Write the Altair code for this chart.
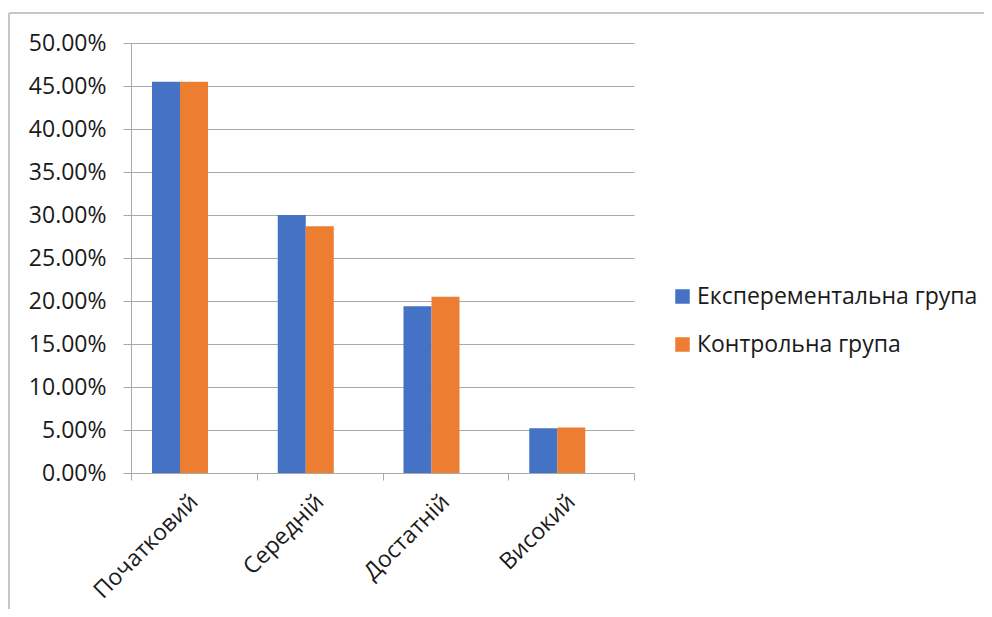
import altair as alt
import pandas as pd

categories = ["Початковий", "Середній", "Достатній", "Високий"]
series_names = ["Експерементальна група", "Контрольна група"]
exp_values = [0.455, 0.300, 0.194, 0.052]
ctrl_values = [0.455, 0.287, 0.205, 0.053]
y_ticks = [0.0, 0.05, 0.10, 0.15, 0.20, 0.25, 0.30, 0.35, 0.40, 0.45, 0.50]

rows = []
for c, e, k in zip(categories, exp_values, ctrl_values):
    rows.append({"level": c, "group": series_names[0], "value": e})
    rows.append({"level": c, "group": series_names[1], "value": k})
df = pd.DataFrame(rows)

FONT = "Open Sans"
GRID = "#a9a9a9"
TEXT = "#1a1a1a"
BLUE = "#4472C4"
ORANGE = "#ED7D31"
BORDER = "#c6c6c6"

bars = alt.Chart(df).mark_bar().encode(
    x=alt.X(
        "level:N", sort=categories,
        scale=alt.Scale(paddingInner=0, paddingOuter=0),
        axis=alt.Axis(title=None, labelAngle=-45, labelAlign="right", labelBaseline="middle",
                      tickBand="extent", labelPadding=18, tickSize=7,
                      domainColor=GRID, tickColor=GRID, labelFontSize=23,
                      labelFont=FONT, labelColor=TEXT, grid=False),
    ),
    xOffset=alt.XOffset("group:N", sort=series_names,
                        scale=alt.Scale(paddingInner=0, paddingOuter=0, range=[21, 77])),
    y=alt.Y(
        "value:Q", scale=alt.Scale(domain=[0, 0.5]),
        axis=alt.Axis(title=None, format=".2%", values=y_ticks, grid=True, gridColor=GRID,
                      tickSize=8, tickColor=GRID, domainColor=GRID, labelPadding=17,
                      labelFontSize=23, labelFont=FONT, labelColor=TEXT),
    ),
    color=alt.Color(
        "group:N", sort=series_names,
        scale=alt.Scale(domain=series_names, range=[BLUE, ORANGE]),
        legend=alt.Legend(title=None, orient="none", legendX=540, legendY=242,
                          symbolType="square", symbolSize=210, symbolStrokeWidth=0,
                          labelFontSize=23, labelFont=FONT, labelColor=TEXT,
                          labelLimit=0, rowPadding=24, labelOffset=3),
    ),
)

border_left = alt.Chart(df).mark_rule(color=BORDER, strokeWidth=1).encode(
    x=alt.value(-122), y=alt.value(-30), y2=alt.value(570)
)
border_top = alt.Chart(df).mark_rule(color=BORDER, strokeWidth=1).encode(
    x=alt.value(-122), x2=alt.value(860), y=alt.value(-30)
)

chart = alt.layer(bars, border_left, border_top).properties(
    width=503, height=430,
    autosize=alt.AutoSizeParams(type="none"),
    padding={"left": 123, "top": 35, "right": 350, "bottom": 136},
).configure_view(stroke=None)

chart.save("out.html", embed_options={"renderer": "svg", "actions": False})
